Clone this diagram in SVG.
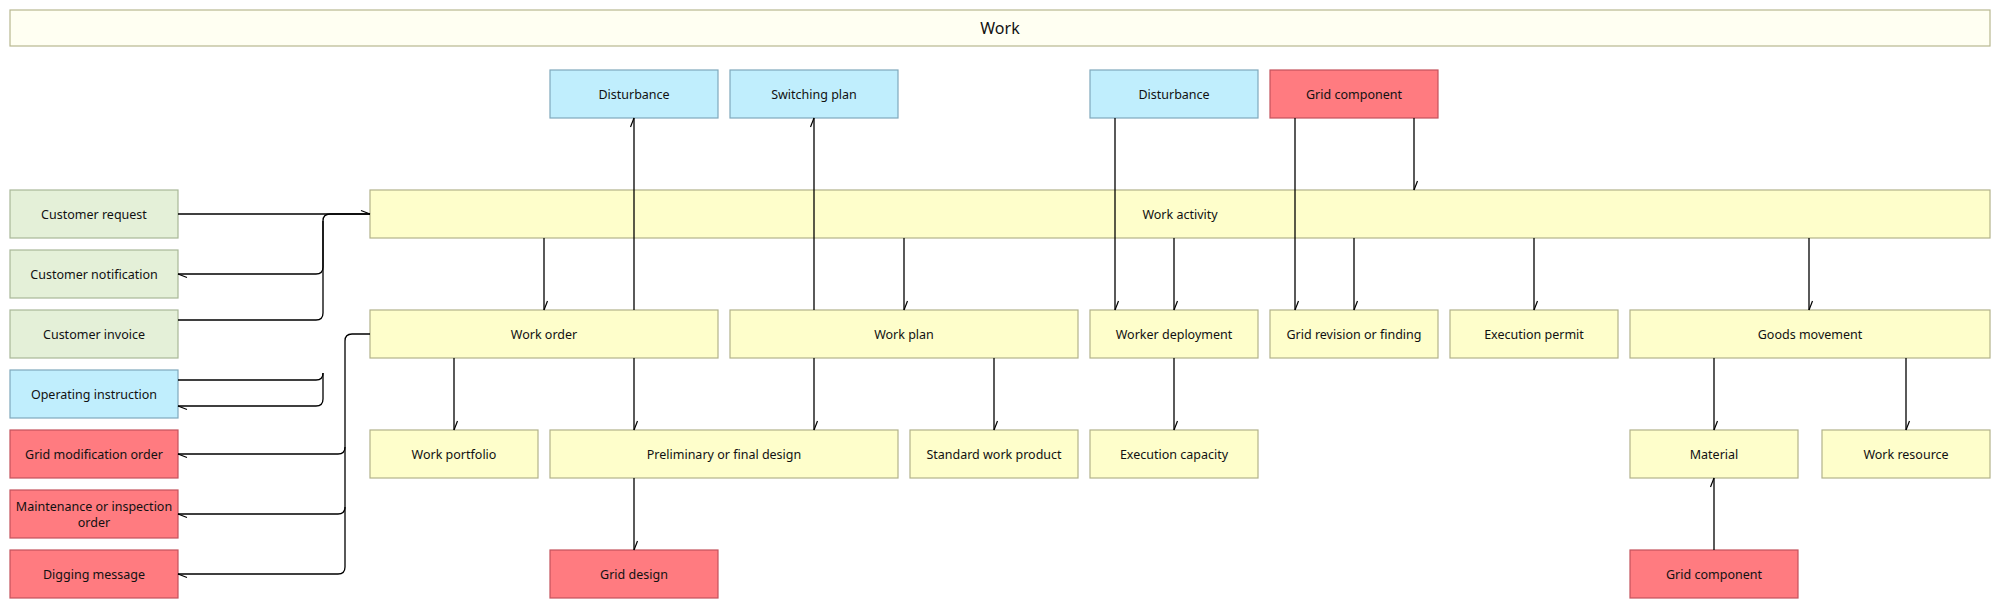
<svg xmlns="http://www.w3.org/2000/svg" width="2001" height="609" viewBox="0 0 2001 609">
<style>
rect{stroke-width:1.2}
.y{fill:#fefecb;stroke:#b2b28a}
.b{fill:#c0eefd;stroke:#7fa8bc}
.r{fill:#ff7b80;stroke:#c4525c}
.g{fill:#e4f0d8;stroke:#a9b898}
.t{fill:#fffff2;stroke:#b8b890}
text{font-family:"Noto Sans","Open Sans",sans-serif;font-size:12.5px;fill:#111;text-anchor:middle;dominant-baseline:central}
.c path{fill:none;stroke:#000;stroke-width:1.3}
.c path.a{marker-end:url(#m)}
</style>
<defs><marker id="m" markerUnits="userSpaceOnUse" orient="auto" overflow="visible" markerWidth="10" markerHeight="10" refX="0" refY="0"><path d="M0,0 L-9,-3.5" fill="none" stroke="#000" stroke-width="1.2"/></marker></defs>
<g id="title"><rect class="t" x="10" y="10" width="1980" height="36"/><text x="1000" y="28" style="font-size:16px">Work</text></g>
<g id="n_dist1"><rect class="b" x="550" y="70" width="168" height="48"/><text x="634" y="94">Disturbance</text></g>
<g id="n_switch"><rect class="b" x="730" y="70" width="168" height="48"/><text x="814" y="94">Switching plan</text></g>
<g id="n_dist2"><rect class="b" x="1090" y="70" width="168" height="48"/><text x="1174" y="94">Disturbance</text></g>
<g id="n_gc1"><rect class="r" x="1270" y="70" width="168" height="48"/><text x="1354" y="94">Grid component</text></g>
<g id="n_creq"><rect class="g" x="10" y="190" width="168" height="48"/><text x="94" y="214">Customer request</text></g>
<g id="n_cnot"><rect class="g" x="10" y="250" width="168" height="48"/><text x="94" y="274">Customer notification</text></g>
<g id="n_cinv"><rect class="g" x="10" y="310" width="168" height="48"/><text x="94" y="334">Customer invoice</text></g>
<g id="n_opi"><rect class="b" x="10" y="370" width="168" height="48"/><text x="94" y="394">Operating instruction</text></g>
<g id="n_gmo"><rect class="r" x="10" y="430" width="168" height="48"/><text x="94" y="454">Grid modification order</text></g>
<g id="n_mio"><rect class="r" x="10" y="490" width="168" height="48"/><text x="94" y="506">Maintenance or inspection</text><text x="94" y="522">order</text></g>
<g id="n_dig"><rect class="r" x="10" y="550" width="168" height="48"/><text x="94" y="574">Digging message</text></g>
<g id="n_wa"><rect class="y" x="370" y="190" width="1620" height="48"/><text x="1180" y="214">Work activity</text></g>
<g id="n_wo"><rect class="y" x="370" y="310" width="348" height="48"/><text x="544" y="334">Work order</text></g>
<g id="n_wp"><rect class="y" x="730" y="310" width="348" height="48"/><text x="904" y="334">Work plan</text></g>
<g id="n_wd"><rect class="y" x="1090" y="310" width="168" height="48"/><text x="1174" y="334">Worker deployment</text></g>
<g id="n_gr"><rect class="y" x="1270" y="310" width="168" height="48"/><text x="1354" y="334">Grid revision or finding</text></g>
<g id="n_ep"><rect class="y" x="1450" y="310" width="168" height="48"/><text x="1534" y="334">Execution permit</text></g>
<g id="n_gm"><rect class="y" x="1630" y="310" width="360" height="48"/><text x="1810" y="334">Goods movement</text></g>
<g id="n_wpf"><rect class="y" x="370" y="430" width="168" height="48"/><text x="454" y="454">Work portfolio</text></g>
<g id="n_pfd"><rect class="y" x="550" y="430" width="348" height="48"/><text x="724" y="454">Preliminary or final design</text></g>
<g id="n_swp"><rect class="y" x="910" y="430" width="168" height="48"/><text x="994" y="454">Standard work product</text></g>
<g id="n_ec"><rect class="y" x="1090" y="430" width="168" height="48"/><text x="1174" y="454">Execution capacity</text></g>
<g id="n_mat"><rect class="y" x="1630" y="430" width="168" height="48"/><text x="1714" y="454">Material</text></g>
<g id="n_wr"><rect class="y" x="1822" y="430" width="168" height="48"/><text x="1906" y="454">Work resource</text></g>
<g id="n_gd"><rect class="r" x="550" y="550" width="168" height="48"/><text x="634" y="574">Grid design</text></g>
<g id="n_gc2"><rect class="r" x="1630" y="550" width="168" height="48"/><text x="1714" y="574">Grid component</text></g>
<g id="connectors" class="c">
<path class="a" d="M178,214 H370"/>
<path class="a" d="M370,214 H330 Q323,214 323,221 V267 Q323,274 316,274 H178"/>
<path d="M178,320 H316 Q323,320 323,313 V221"/>
<path d="M178,380 H316 Q323,380 323,373"/>
<path class="a" d="M323,373 V399 Q323,406 316,406 H178"/>
<path class="a" d="M370,334 H352 Q345,334 345,341 V447 Q345,454 338,454 H178"/>
<path class="a" d="M345,447 V507 Q345,514 338,514 H178"/>
<path class="a" d="M345,507 V567 Q345,574 338,574 H178"/>
<path class="a" d="M544,238 V310"/>
<path class="a" d="M634,310 V118"/>
<path class="a" d="M814,310 V118"/>
<path class="a" d="M904,238 V310"/>
<path class="a" d="M1115,118 V310"/>
<path class="a" d="M1174,238 V310"/>
<path class="a" d="M1295,118 V310"/>
<path class="a" d="M1414,118 V190"/>
<path class="a" d="M1354,238 V310"/>
<path class="a" d="M1534,238 V310"/>
<path class="a" d="M1809,238 V310"/>
<path class="a" d="M454,358 V430"/>
<path class="a" d="M634,358 V430"/>
<path class="a" d="M814,358 V430"/>
<path class="a" d="M994,358 V430"/>
<path class="a" d="M1174,358 V430"/>
<path class="a" d="M1714,358 V430"/>
<path class="a" d="M1906,358 V430"/>
<path class="a" d="M634,478 V550"/>
<path class="a" d="M1714,550 V478"/>
</g>
</svg>
